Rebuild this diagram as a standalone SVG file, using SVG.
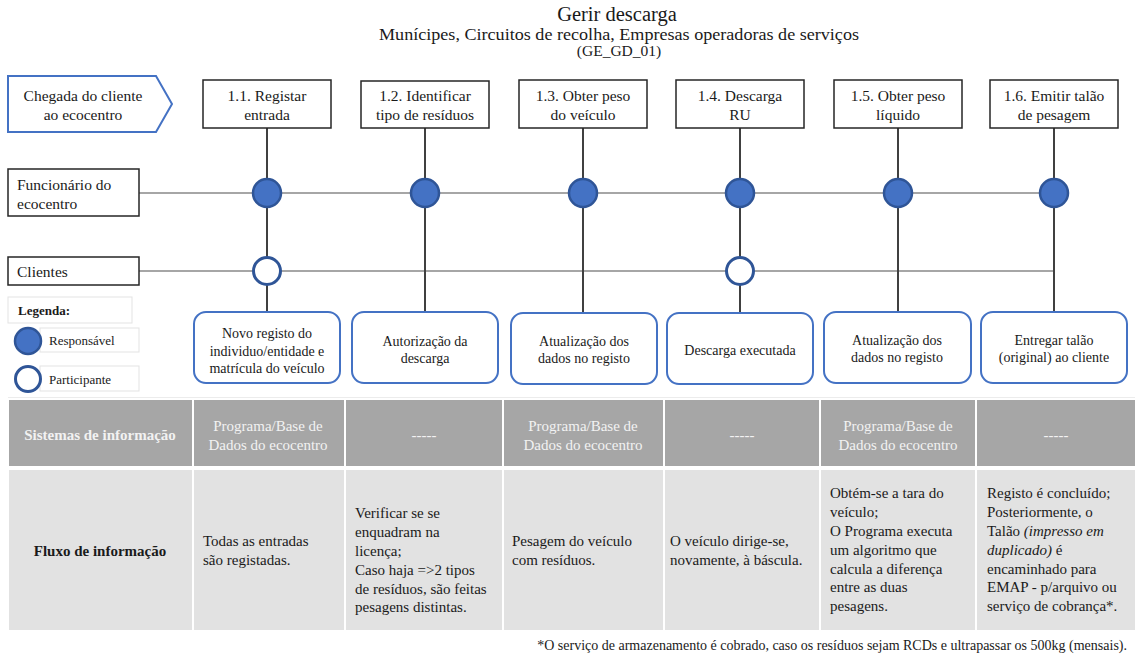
<svg xmlns="http://www.w3.org/2000/svg" width="1137" height="657" viewBox="0 0 1137 657">
  <style>
    text { font-family: "Liberation Serif", "Times New Roman", serif; fill: #1a1a1a; }
    .title { font-size: 20.5px; text-anchor: middle; }
    .sub { font-size: 17.5px; text-anchor: middle; }
    .code { font-size: 15.5px; text-anchor: middle; }
    .step { fill: #ffffff; stroke: #262626; stroke-width: 1.5; }
    .steptxt { font-size: 15.5px; text-anchor: middle; }
    .lane { fill: #ffffff; stroke: #262626; stroke-width: 1.5; }
    .lanetxt { font-size: 15.5px; }
    .out { fill: #ffffff; stroke: #4472C4; stroke-width: 2; }
    .outtxt { font-size: 14px; text-anchor: middle; }
    .wire { stroke: #404040; stroke-width: 2; fill: none; }
    .track { stroke: #A6A6A6; stroke-width: 2; fill: none; }
    .resp { fill: #4472C4; stroke: #2F5597; stroke-width: 2.5; }
    .part { fill: #ffffff; stroke: #2F5597; stroke-width: 3; }
    .legbox { fill: #ffffff; stroke: #E3E3E3; stroke-width: 1; }
    .legtxt { font-size: 13px; }
    .hcell { fill: #A6A6A6; stroke: #ffffff; stroke-width: 2; }
    .bcell { fill: #E2E2E2; stroke: #ffffff; stroke-width: 2; }
    .htxt { font-size: 15px; fill: #F2F2F2; text-anchor: middle; }
    .hbold { font-size: 15px; font-weight: bold; fill: #F2F2F2; text-anchor: middle; }
    .btxt { font-size: 15px; }
    .bbold { font-size: 15px; font-weight: bold; text-anchor: middle; }
    .note { font-size: 14px; text-anchor: end; }
  </style>

  <!-- Title block -->
  <g id="title">
    <text class="title" x="617" y="21">Gerir descarga</text>
    <text class="sub" x="619" y="40" textLength="480" lengthAdjust="spacingAndGlyphs">Munícipes, Circuitos de recolha, Empresas operadoras de serviços</text>
    <text class="code" x="619" y="56">(GE_GD_01)</text>
  </g>

  <!-- Lane tracks and step connectors -->
  <g id="connectors">
    <line class="track" x1="139" y1="193" x2="1054" y2="193"/>
    <line class="track" x1="139" y1="271" x2="1054" y2="271"/>
    <line class="wire" x1="267" y1="128" x2="267" y2="312"/>
    <line class="wire" x1="425" y1="128" x2="425" y2="312"/>
    <line class="wire" x1="583" y1="128" x2="583" y2="312"/>
    <line class="wire" x1="740" y1="128" x2="740" y2="312"/>
    <line class="wire" x1="898" y1="128" x2="898" y2="312"/>
    <line class="wire" x1="1054" y1="128" x2="1054" y2="312"/>
  </g>

  <!-- Start event -->
  <g id="start">
    <polygon points="8,76 156,76 172,104 156,132 8,132" fill="#ffffff" stroke="#4472C4" stroke-width="2"/>
    <text class="steptxt" x="83" y="101">Chegada do cliente</text>
    <text class="steptxt" x="83" y="120">ao ecocentro</text>
  </g>

  <!-- Process steps -->
  <g id="step-1-1">
    <rect class="step" x="203" y="80" width="128" height="48"/>
    <text class="steptxt" x="267" y="101">1.1. Registar</text>
    <text class="steptxt" x="267" y="120">entrada</text>
  </g>
  <g id="step-1-2">
    <rect class="step" x="361" y="81" width="128" height="47"/>
    <text class="steptxt" x="425" y="101">1.2. Identificar</text>
    <text class="steptxt" x="425" y="120">tipo de resíduos</text>
  </g>
  <g id="step-1-3">
    <rect class="step" x="519" y="80" width="128" height="48"/>
    <text class="steptxt" x="583" y="101">1.3. Obter peso</text>
    <text class="steptxt" x="583" y="120">do veículo</text>
  </g>
  <g id="step-1-4">
    <rect class="step" x="676" y="80" width="128" height="48"/>
    <text class="steptxt" x="740" y="101">1.4. Descarga</text>
    <text class="steptxt" x="740" y="120">RU</text>
  </g>
  <g id="step-1-5">
    <rect class="step" x="834" y="80" width="128" height="48"/>
    <text class="steptxt" x="898" y="101">1.5. Obter peso</text>
    <text class="steptxt" x="898" y="120">líquido</text>
  </g>
  <g id="step-1-6">
    <rect class="step" x="990" y="80" width="128" height="48"/>
    <text class="steptxt" x="1054" y="101">1.6. Emitir talão</text>
    <text class="steptxt" x="1054" y="120">de pesagem</text>
  </g>

  <!-- Lanes -->
  <g id="lane-funcionario">
    <rect class="lane" x="8" y="169" width="131" height="47"/>
    <text class="lanetxt" x="17" y="190">Funcionário do</text>
    <text class="lanetxt" x="17" y="209">ecocentro</text>
  </g>
  <g id="lane-clientes">
    <rect class="lane" x="8" y="257" width="131" height="28"/>
    <text class="lanetxt" x="17" y="277">Clientes</text>
  </g>

  <!-- Role markers -->
  <g id="roles">
    <circle class="resp" cx="267" cy="193" r="14"/>
    <circle class="resp" cx="425" cy="193" r="14"/>
    <circle class="resp" cx="583" cy="193" r="14"/>
    <circle class="resp" cx="740" cy="193" r="14"/>
    <circle class="resp" cx="898" cy="193" r="14"/>
    <circle class="resp" cx="1054" cy="193" r="14"/>
    <circle class="part" cx="267" cy="271" r="13.5"/>
    <circle class="part" cx="740" cy="271" r="13.5"/>
  </g>

  <!-- Legend -->
  <g id="legend">
    <rect class="legbox" x="8" y="297" width="124" height="26"/>
    <text class="legtxt" x="18" y="315" font-weight="bold">Legenda:</text>
    <rect class="legbox" x="40" y="328" width="99" height="24"/>
    <circle class="resp" cx="28" cy="341" r="13"/>
    <text class="legtxt" x="49" y="345">Responsável</text>
    <rect class="legbox" x="40" y="366" width="99" height="25"/>
    <circle class="part" cx="28" cy="379" r="12.5"/>
    <text class="legtxt" x="49" y="384">Participante</text>
  </g>

  <!-- Step outputs -->
  <g id="out-1-1">
    <rect class="out" x="194" y="312" width="146" height="71" rx="12"/>
    <text class="outtxt" x="267" y="338">Novo registo do</text>
    <text class="outtxt" x="267" y="356">individuo/entidade e</text>
    <text class="outtxt" x="267" y="373">matrícula do veículo</text>
  </g>
  <g id="out-1-2">
    <rect class="out" x="352" y="312" width="146" height="71" rx="12"/>
    <text class="outtxt" x="425" y="346">Autorização da</text>
    <text class="outtxt" x="425" y="363">descarga</text>
  </g>
  <g id="out-1-3">
    <rect class="out" x="511" y="313" width="146" height="71" rx="12"/>
    <text class="outtxt" x="584" y="346">Atualização dos</text>
    <text class="outtxt" x="584" y="363">dados no registo</text>
  </g>
  <g id="out-1-4">
    <rect class="out" x="667" y="313" width="146" height="71" rx="12"/>
    <text class="outtxt" x="740" y="355">Descarga executada</text>
  </g>
  <g id="out-1-5">
    <rect class="out" x="824" y="312" width="147" height="71" rx="12"/>
    <text class="outtxt" x="897" y="345">Atualização dos</text>
    <text class="outtxt" x="897" y="362">dados no registo</text>
  </g>
  <g id="out-1-6">
    <rect class="out" x="981" y="312" width="146" height="71" rx="12"/>
    <text class="outtxt" x="1054" y="345">Entregar talão</text>
    <text class="outtxt" x="1054" y="362">(original) ao cliente</text>
  </g>

  <!-- Information table -->
  <g id="table">
    <line x1="8" y1="398" x2="1135" y2="398" stroke="#D9D9D9" stroke-width="1"/>
    <!-- header row -->
    <rect class="hcell" x="8" y="399" width="185" height="68"/>
    <rect class="hcell" x="193" y="399" width="152" height="68"/>
    <rect class="hcell" x="345" y="399" width="158" height="68"/>
    <rect class="hcell" x="503" y="399" width="161" height="68"/>
    <rect class="hcell" x="664" y="399" width="156" height="68"/>
    <rect class="hcell" x="820" y="399" width="156" height="68"/>
    <rect class="hcell" x="976" y="399" width="160" height="68"/>
    <text class="hbold" x="100" y="440">Sistemas de informação</text>
    <text class="htxt" x="268" y="431">Programa/Base de</text>
    <text class="htxt" x="268" y="450">Dados do ecocentro</text>
    <text class="htxt" x="424" y="440">-----</text>
    <text class="htxt" x="583" y="431">Programa/Base de</text>
    <text class="htxt" x="583" y="450">Dados do ecocentro</text>
    <text class="htxt" x="742" y="440">-----</text>
    <text class="htxt" x="898" y="431">Programa/Base de</text>
    <text class="htxt" x="898" y="450">Dados do ecocentro</text>
    <text class="htxt" x="1056" y="440">-----</text>
    <!-- body row -->
    <rect class="bcell" x="8" y="469" width="185" height="162"/>
    <rect class="bcell" x="193" y="469" width="152" height="162"/>
    <rect class="bcell" x="345" y="469" width="158" height="162"/>
    <rect class="bcell" x="503" y="469" width="161" height="162"/>
    <rect class="bcell" x="664" y="469" width="156" height="162"/>
    <rect class="bcell" x="820" y="469" width="156" height="162"/>
    <rect class="bcell" x="976" y="469" width="160" height="162"/>
    <text class="bbold" x="100" y="556">Fluxo de informação</text>
    <text class="btxt" x="203" y="546">Todas as entradas</text>
    <text class="btxt" x="203" y="565">são registadas.</text>
    <text class="btxt" x="355" y="518">Verificar se se</text>
    <text class="btxt" x="355" y="537">enquadram na</text>
    <text class="btxt" x="355" y="556">licença;</text>
    <text class="btxt" x="355" y="575">Caso haja =&gt;2 tipos</text>
    <text class="btxt" x="355" y="594">de resíduos, são feitas</text>
    <text class="btxt" x="355" y="612">pesagens distintas.</text>
    <text class="btxt" x="512" y="546">Pesagem do veículo</text>
    <text class="btxt" x="512" y="565">com resíduos.</text>
    <text class="btxt" x="670" y="546">O veículo dirige-se,</text>
    <text class="btxt" x="670" y="565">novamente, à báscula.</text>
    <text class="btxt" x="830" y="498">Obtém-se a tara do</text>
    <text class="btxt" x="830" y="517">veículo;</text>
    <text class="btxt" x="830" y="536">O Programa executa</text>
    <text class="btxt" x="830" y="555">um algoritmo que</text>
    <text class="btxt" x="830" y="574">calcula a diferença</text>
    <text class="btxt" x="830" y="592">entre as duas</text>
    <text class="btxt" x="830" y="611">pesagens.</text>
    <text class="btxt" x="987" y="498">Registo é concluído;</text>
    <text class="btxt" x="987" y="517">Posteriormente, o</text>
    <text class="btxt" x="987" y="536">Talão <tspan font-style="italic">(impresso em</tspan></text>
    <text class="btxt" x="987" y="555"><tspan font-style="italic">duplicado)</tspan> é</text>
    <text class="btxt" x="987" y="574">encaminhado para</text>
    <text class="btxt" x="987" y="592">EMAP - p/arquivo ou</text>
    <text class="btxt" x="987" y="611">serviço de cobrança*.</text>
  </g>

  <!-- Footnote -->
  <text class="note" x="1127" y="650">*O serviço de armazenamento é cobrado, caso os resíduos sejam RCDs e ultrapassar os 500kg (mensais).</text>
</svg>
